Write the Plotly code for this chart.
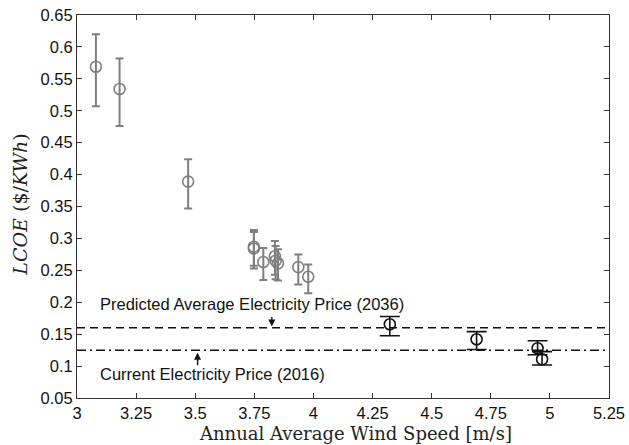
import plotly.graph_objects as go

# Sites with lower wind resource (grey) and higher wind resource (black)
wind_low = [3.08, 3.18, 3.47, 3.748, 3.748, 3.788, 3.837, 3.84, 3.85, 3.936, 3.978]
lcoe_low = [0.569, 0.534, 0.389, 0.287, 0.284, 0.263, 0.272, 0.265, 0.261, 0.255, 0.240]
err_low_plus = [0.051, 0.048, 0.035, 0.026, 0.026, 0.022, 0.024, 0.023, 0.022, 0.020, 0.019]
err_low_minus = [0.062, 0.058, 0.042, 0.030, 0.031, 0.028, 0.029, 0.029, 0.027, 0.027, 0.026]

wind_high = [4.323, 4.690, 4.948, 4.967]
lcoe_high = [0.1656, 0.142, 0.128, 0.1106]
err_high_plus = [0.012, 0.012, 0.0117, 0.012]
err_high_minus = [0.018, 0.016, 0.0103, 0.009]

# Reference electricity prices ($/KWh)
price_2036 = 0.160
price_2016 = 0.125

x_ticks = [3, 3.25, 3.5, 3.75, 4, 4.25, 4.5, 4.75, 5, 5.25]
x_tick_text = ["3", "3.25", "3.5", "3.75", "4", "4.25", "4.5", "4.75", "5", "5.25"]
y_ticks = [0.05, 0.1, 0.15, 0.2, 0.25, 0.3, 0.35, 0.4, 0.45, 0.5, 0.55, 0.6, 0.65]
y_tick_text = ["0.05", "0.1", "0.15", "0.2", "0.25", "0.3", "0.35", "0.4",
               "0.45", "0.5", "0.55", "0.6", "0.65"]

x_min, x_max = 3, 5.25
y_min, y_max = 0.05, 0.65

GREY = "#7f7f7f"
BLACK = "#111111"

MARGIN_B = 47
PLOT_H = 445 - 15 - MARGIN_B

fig = go.Figure()

fig.add_trace(go.Scatter(
    x=[x_min, x_max], y=[price_2036, price_2036], mode="lines",
    line=dict(color=BLACK, width=1.5, dash="8px,5px"), showlegend=False,
    hoverinfo="skip"))
fig.add_trace(go.Scatter(
    x=[x_min, x_max], y=[price_2016, price_2016], mode="lines",
    line=dict(color=BLACK, width=1.5, dash="9px,4px,2px,4px"), showlegend=False,
    hoverinfo="skip"))

fig.add_trace(go.Scatter(
    x=wind_low, y=lcoe_low, mode="markers",
    marker=dict(symbol="circle-open", size=11, color=GREY, line=dict(width=1.6, color=GREY)),
    error_y=dict(type="data", symmetric=False, array=err_low_plus, arrayminus=err_low_minus,
                 color=GREY, thickness=2, width=4),
    showlegend=False))

fig.add_trace(go.Scatter(
    x=wind_high, y=lcoe_high, mode="markers",
    marker=dict(symbol="circle-open", size=11, color=BLACK, line=dict(width=1.6, color=BLACK)),
    error_y=dict(type="data", symmetric=False, array=err_high_plus, arrayminus=err_high_minus,
                 color=BLACK, thickness=1.6, width=10),
    showlegend=False))

label_font = dict(family="Liberation Sans, Arial, sans-serif", size=16.5, color=BLACK)
serif_font = dict(family="DejaVu Serif, serif", size=18, color="#222222")

annotations = [
    dict(x=x_min + 0.09, y=0.197, xref="x", yref="y", xanchor="left", yanchor="middle",
         text="Predicted Average Electricity Price (2036)", showarrow=False, font=label_font),
    dict(x=x_min + 0.09, y=0.0875, xref="x", yref="y", xanchor="left", yanchor="middle",
         text="Current Electricity Price (2016)", showarrow=False, font=label_font),
    # arrow pointing down to the 2036 price line
    dict(x=3.824, y=price_2036 + 0.002, xref="x", yref="y", ax=0, ay=-11, text="",
         showarrow=True, arrowhead=2, arrowsize=1, arrowwidth=1.4, arrowcolor=BLACK),
    # arrow pointing up to the 2016 price line
    dict(x=3.51, y=price_2016 - 0.004, xref="x", yref="y", ax=0, ay=14, text="",
         showarrow=True, arrowhead=2, arrowsize=1, arrowwidth=1.4, arrowcolor=BLACK),
    dict(x=0.524, y=-MARGIN_B / PLOT_H, xref="paper", yref="paper", xanchor="center",
         yanchor="bottom", text="Annual Average Wind Speed [m/s]", showarrow=False,
         font=serif_font, borderpad=0),
    dict(x=-0.107, y=0.505, xref="paper", yref="paper", xanchor="center", yanchor="middle",
         text="<i>LCOE</i> ($/<i>KWh</i>)", textangle=-90, showarrow=False,
         font=dict(family="DejaVu Serif, serif", size=19, color="#222222")),
]

axis_common = dict(showline=True, linecolor="#333333", linewidth=1, mirror="ticks",
                   ticks="inside", ticklen=5, tickcolor="#333333", showgrid=False,
                   zeroline=False, automargin=False,
                   tickfont=dict(family="Liberation Sans, Arial, sans-serif", size=16.5,
                                 color=BLACK))

fig.update_layout(
    width=629, height=445,
    margin=dict(l=77, r=20, t=15, b=MARGIN_B),
    paper_bgcolor="white", plot_bgcolor="white",
    xaxis=dict(range=[x_min, x_max], tickvals=x_ticks, ticktext=x_tick_text, **axis_common),
    yaxis=dict(range=[y_min, y_max], tickvals=y_ticks, ticktext=y_tick_text, **axis_common),
    annotations=annotations,
)

fig.write_html("out.html")
